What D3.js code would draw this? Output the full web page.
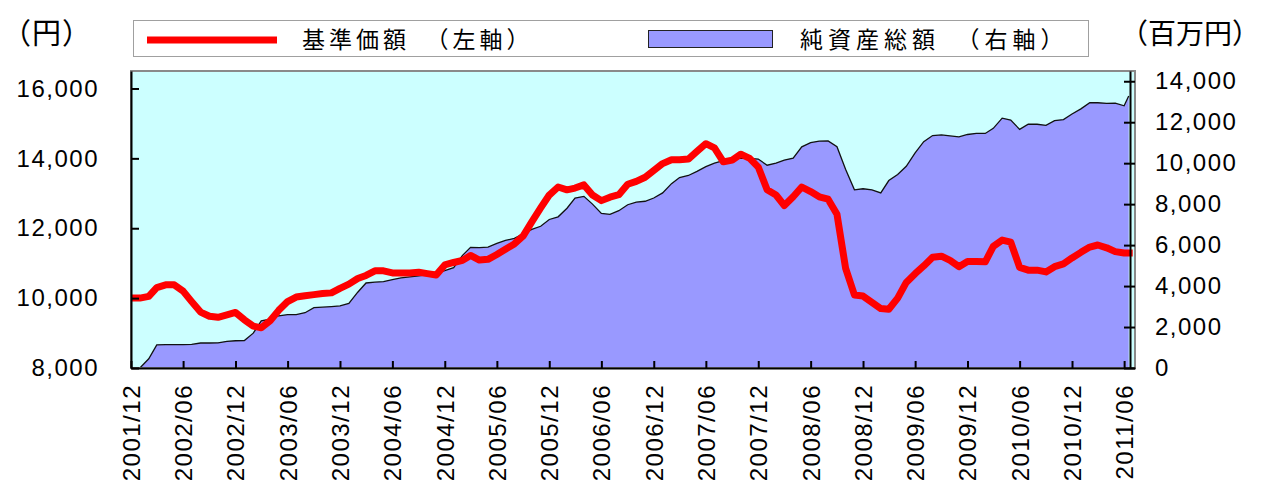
<!DOCTYPE html>
<html>
<head>
<meta charset="utf-8">
<script src="https://cdn.jsdelivr.net/npm/d3@7"></script>
<style>
  body { margin: 0; background: #fff; }
</style>
</head>
<body>
<div id="chart"></div>
<script>
// Monthly series, first point is 2001/12.
const startMonth = "2001/12";

// 基準価額 (yen, left axis)
const navValues = [
  10000, 10000, 10050, 10300, 10380, 10380, 10200, 9900, 9600, 9480,
  9450, 9520, 9590, 9380, 9200, 9150, 9350, 9650, 9900, 10030,
  10070, 10100, 10130, 10150, 10280, 10400, 10560, 10650, 10780, 10780,
  10720, 10720, 10720, 10740, 10700, 10660, 10950, 11020, 11080, 11220,
  11090, 11110, 11250, 11400, 11550, 11780, 12180, 12580, 12950, 13180,
  13100, 13150, 13240, 12950, 12790, 12890, 12960, 13260, 13340, 13460,
  13650, 13850, 13960, 13960, 13980, 14200, 14420, 14300, 13900, 13950,
  14120, 14000, 13750, 13100, 12950, 12650, 12900, 13180, 13050, 12900,
  12830, 12400, 10860, 10090, 10060, 9880, 9700, 9680, 10000, 10450,
  10700, 10920, 11170, 11200, 11080, 10900, 11050, 11050, 11040, 11480,
  11660, 11600, 10880, 10800, 10800, 10750, 10900, 10980, 11150, 11310,
  11460, 11520, 11440, 11330, 11290, 11290
];

// 純資産総額 (million yen, right axis)
const assetValues = [
  0, 0, 450, 1130, 1140, 1140, 1140, 1150, 1220, 1220,
  1230, 1300, 1330, 1340, 1700, 2300, 2380, 2550, 2610, 2610,
  2700, 2950, 2970, 3000, 3030, 3150, 3700, 4150, 4190, 4220,
  4310, 4400, 4450, 4500, 4560, 4620, 4750, 4900, 5500, 5890,
  5880, 5900, 6080, 6230, 6330, 6550, 6770, 6920, 7250, 7380,
  7800, 8300, 8380, 8000, 7550, 7500, 7680, 7970, 8100, 8140,
  8300, 8550, 9000, 9300, 9400, 9600, 9830, 10000, 10120, 10200,
  10250, 10230, 10200, 9900, 10000, 10150, 10250, 10800, 11000, 11080,
  11090, 10800, 9700, 8700, 8750, 8700, 8550, 9150, 9450, 9850,
  10500, 11050, 11350, 11380, 11330, 11280, 11400, 11450, 11450, 11700,
  12200, 12100, 11650, 11900, 11900, 11850, 12080, 12130, 12400, 12650,
  12950, 12950, 12920, 12930, 12800
];
const assetEnd = { date: "2011/06/17", value: 13280 };

const leftTicks = [8000, 10000, 12000, 14000, 16000];
const rightTicks = [0, 2000, 4000, 6000, 8000, 10000, 12000, 14000];
const tickLabels = [
  "2001/12", "2002/06", "2002/12", "2003/06", "2003/12", "2004/06", "2004/12",
  "2005/06", "2005/12", "2006/06", "2006/12", "2007/06", "2007/12", "2008/06",
  "2008/12", "2009/06", "2009/12", "2010/06", "2010/12", "2011/06"
];
const legendLabels = ["基準価額　（左軸）", "純資産総額　（右軸）"];
const unitLabels = ["（円）", "（百万円）"];

var W = 1266, H = 490;
var plot = { left: 131, top: 71, right: 1135, bottom: 368 };
var numFont = "'Liberation Sans', Arial, sans-serif";
var jpFont = "'Noto Sans CJK JP', sans-serif";

var parseMonth = d3.timeParse("%Y/%m");
var parseDay = d3.timeParse("%Y/%m/%d");
var start = parseMonth(startMonth);

var navData = navValues.map((v, i) => ({ date: d3.timeMonth.offset(start, i), value: v }));
var assetData = assetValues.map((v, i) => ({ date: d3.timeMonth.offset(start, i), value: v }));
assetData.push({ date: parseDay(assetEnd.date), value: assetEnd.value });

var x = d3.scaleTime()
  .domain([start, parseDay("2011/07/09")])
  .range([plot.left, plot.right]);
var yLeft = d3.scaleLinear().domain([8000, 16500]).range([plot.bottom, plot.top]);
var yRight = d3.scaleLinear().domain([0, 14500]).range([plot.bottom, plot.top]);

var svg = d3.select("#chart").append("svg")
  .attr("width", W).attr("height", H);

svg.append("clipPath").attr("id", "plotclip")
  .append("rect")
  .attr("x", plot.left).attr("y", plot.top)
  .attr("width", plot.right - plot.left).attr("height", plot.bottom - plot.top);

// Plot background
svg.append("rect")
  .attr("x", plot.left).attr("y", plot.top)
  .attr("width", plot.right - plot.left).attr("height", plot.bottom - plot.top)
  .attr("fill", "#ccffff");

var g = svg.append("g").attr("clip-path", "url(#plotclip)");

// Net assets area
var area = d3.area()
  .x(d => x(d.date))
  .y0(yRight(0))
  .y1(d => yRight(d.value));
g.append("path").datum(assetData)
  .attr("d", area)
  .attr("fill", "#9999ff");

g.append("path").datum(assetData)
  .attr("d", d3.line().x(d => x(d.date)).y(d => yRight(d.value)))
  .attr("fill", "none")
  .attr("stroke", "#111")
  .attr("stroke-width", 1.3);

// NAV line
g.append("path").datum(navData)
  .attr("d", d3.line().x(d => x(d.date)).y(d => yLeft(d.value)))
  .attr("fill", "none")
  .attr("stroke", "#ff0000")
  .attr("stroke-width", 7)
  .attr("stroke-linejoin", "round");

// Frame
svg.append("rect")
  .attr("x", plot.left).attr("y", plot.top)
  .attr("width", plot.right - plot.left).attr("height", plot.bottom - plot.top)
  .attr("fill", "none")
  .attr("stroke", "#8a8a8a")
  .attr("stroke-width", 2);

// Left axis (ticks inside)
var axLeft = svg.append("g")
  .attr("transform", "translate(" + plot.left + ",0)")
  .call(d3.axisLeft(yLeft).tickValues(leftTicks).tickSizeInner(-8).tickSizeOuter(0)
    .tickPadding(34).tickFormat(d3.format(",")));

// Right axis, drawn just inside the frame, ticks crossing the line
var rightX = plot.right - 5;
var axRight = svg.append("g")
  .attr("transform", "translate(" + rightX + ",0)")
  .call(d3.axisRight(yRight).tickValues(rightTicks).tickSizeInner(5).tickSizeOuter(0)
    .tickPadding(20).tickFormat(d3.format(",")));
axRight.selectAll(".tick line").attr("x1", -6);

// Bottom axis
var tickDates = tickLabels.map(parseMonth);
var axBottom = svg.append("g")
  .attr("transform", "translate(0," + plot.bottom + ")")
  .call(d3.axisBottom(x).tickValues(tickDates).tickSizeInner(-7).tickSizeOuter(0)
    .tickFormat(d3.timeFormat("%Y/%m")));
axBottom.selectAll("text")
  .attr("transform", "rotate(-90)")
  .attr("x", -16).attr("y", 0).attr("dy", "0.35em")
  .style("text-anchor", "end");

[axLeft, axRight, axBottom].forEach(a => {
  a.attr("font-family", numFont).attr("font-size", 24);
  a.selectAll("text").attr("fill", "#000").attr("letter-spacing", 1.5);
  a.selectAll(".tick line").attr("stroke", "#000").attr("stroke-width", 2);
  a.select(".domain").attr("stroke", "#000").attr("stroke-width", 2);
});
axLeft.selectAll("text").attr("x", -32);

// Legend
var legend = svg.append("g");
legend.append("rect")
  .attr("x", 133.5).attr("y", 20.5).attr("width", 955).attr("height", 36)
  .attr("fill", "#fff").attr("stroke", "#a0a0a0").attr("stroke-width", 1);
legend.append("line")
  .attr("x1", 147).attr("x2", 277).attr("y1", 40).attr("y2", 40)
  .attr("stroke", "#ff0000").attr("stroke-width", 7);
legend.append("rect")
  .attr("x", 648.5).attr("y", 30.5).attr("width", 124).attr("height", 17)
  .attr("fill", "#9999ff").attr("stroke", "#222").attr("stroke-width", 1);
legend.selectAll("text.lg").data(legendLabels).enter().append("text")
  .attr("class", "lg")
  .attr("x", (d, i) => i === 0 ? 302 : 800)
  .attr("y", 40).attr("dy", "0.36em")
  .attr("font-family", jpFont).attr("font-size", 23)
  .attr("letter-spacing", (d, i) => i === 0 ? 4 : 5)
  .attr("fill", "#000")
  .text(d => d);

// Unit labels
svg.append("text")
  .attr("x", 2).attr("y", 34).attr("dy", "0.36em")
  .attr("font-family", jpFont).attr("font-size", 29)
  .attr("letter-spacing", 1)
  .attr("fill", "#000").text(unitLabels[0]);
svg.append("text")
  .attr("x", 1120).attr("y", 34).attr("dy", "0.36em")
  .attr("font-family", jpFont).attr("font-size", 28)
  .attr("fill", "#000").text(unitLabels[1]);
</script>
</body>
</html>
